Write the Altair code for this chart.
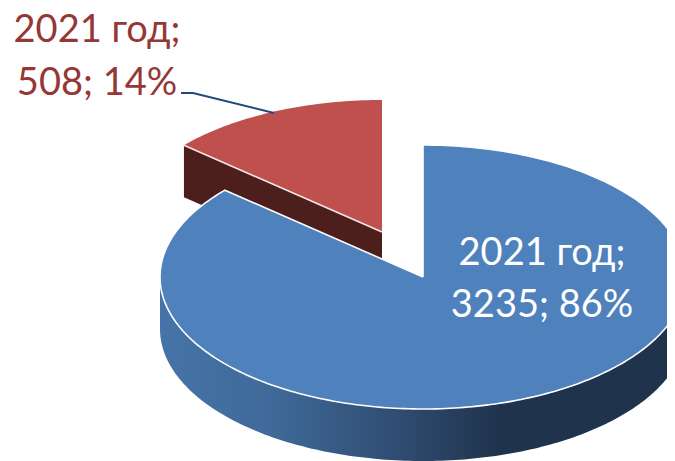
import math
import altair as alt
import pandas as pd

# chart values
categories = ["2021 год", "2021 год"]
values = [3235, 508]
percents = [86, 14]

# page-pixel layout of the tilted pie
W, H = 667, 461
BLUE_C = (423, 277)
RED_C = (382, 232)
RX, RY, DEPTH = 263, 132, 52
STEP = 1

total = sum(values)
red_deg = 360 * values[1] / total


def rim(c, deg):
    t = math.radians(deg)
    return c[0] + RX * math.sin(t), c[1] - RY * math.cos(t)


def sector(c, start, end):
    pts = [c]
    n = int((end - start) / STEP)
    for i in range(n + 1):
        pts.append(rim(c, start + (end - start) * i / n))
    pts.append(c)
    return pd.DataFrame([{"x": p[0], "y": p[1], "o": i} for i, p in enumerate(pts)])


xs = alt.Scale(domain=[8, W], range=[0, W - 8], nice=False, zero=False)
ys = alt.Scale(domain=[H, 8], range=[H - 8, 0], nice=False, zero=False)
X = alt.X("x:Q", scale=xs, axis=None)
Y = alt.Y("y:Q", scale=ys, axis=None)


def shape(df, fill, stroke=None, sw=0):
    kw = dict(fill=fill, clip=True)
    if stroke:
        kw.update(stroke=stroke, strokeWidth=sw, strokeJoin="round")
    else:
        kw.update(strokeWidth=0)
    return alt.Chart(df).mark_line(**kw).encode(x=X, y=Y, order=alt.Order("o:Q"))


# red slice: wall under the cut edge, then top
left = rim(RED_C, 360 - red_deg)
red_wall = pd.DataFrame([
    {"x": left[0], "y": left[1], "o": 0},
    {"x": RED_C[0], "y": RED_C[1], "o": 1},
    {"x": RED_C[0], "y": RED_C[1] + DEPTH, "o": 2},
    {"x": left[0], "y": left[1] + DEPTH, "o": 3},
    {"x": left[0], "y": left[1], "o": 4},
])
red_top = sector(RED_C, 360 - red_deg, 360)
red_edge = pd.DataFrame({"x": [left[0], RED_C[0]], "y": [left[1], RED_C[1]], "o": [0, 1]})

# blue slice: outer wall with shading, then top
wall_rows = []
for d in range(270, 89, -STEP):
    px, py = rim(BLUE_C, d)
    wall_rows.append({"x": px, "y": py, "ybot": py + DEPTH})
blue_wall = pd.DataFrame(wall_rows)
blue_top = sector(BLUE_C, 0, 360 - red_deg)

wall_gradient = alt.Gradient(
    gradient="linear", x1=0, x2=1, y1=0, y2=0,
    stops=[
        alt.GradientStop(color="#4674a8", offset=0),
        alt.GradientStop(color="#3f6a99", offset=0.21),
        alt.GradientStop(color="#2e4a6e", offset=0.47),
        alt.GradientStop(color="#1f334c", offset=0.65),
        alt.GradientStop(color="#1f334c", offset=1),
    ],
)

leader = pd.DataFrame({"x": [181, 193, 274], "y": [93, 93, 113], "o": [0, 1, 2]})

red_lines = pd.DataFrame({
    "x": [97, 97], "y": [42, 95],
    "t": [f"{categories[1]};", f"{values[1]}; {percents[1]}%"],
})
blue_lines = pd.DataFrame({
    "x": [542, 542], "y": [265, 317],
    "t": [f"{categories[0]};", f"{values[0]}; {percents[0]}%"],
})


def label(df, color):
    return alt.Chart(df).mark_text(
        font="Lato", fontSize=38, color=color, align="center", baseline="alphabetic"
    ).encode(x=X, y=Y, text="t:N")


chart = alt.layer(
    shape(red_wall, "#4d1f1c"),
    shape(red_top, "#c0504d"),
    alt.Chart(red_edge).mark_line(color="#f4e6e6", strokeWidth=1.6).encode(
        x=X, y=Y, order=alt.Order("o:Q")
    ),
    alt.Chart(blue_wall).mark_area(color=wall_gradient, clip=True).encode(
        x=X, y=Y, y2=alt.Y2("ybot:Q")
    ),
    shape(blue_top, "#4f81bd", "#ffffff", 1.6),
    alt.Chart(leader).mark_line(color="#1f497d", strokeWidth=2).encode(
        x=X, y=Y, order=alt.Order("o:Q")
    ),
    label(red_lines, "#953735"),
    label(blue_lines, "#ffffff"),
).properties(
    width=W - 8, height=H - 8, padding=0,
    autosize=alt.AutoSizeParams(type="none"),
).configure_view(stroke=None)

chart.save("out.html", embed_options={"renderer": "svg", "actions": False})
